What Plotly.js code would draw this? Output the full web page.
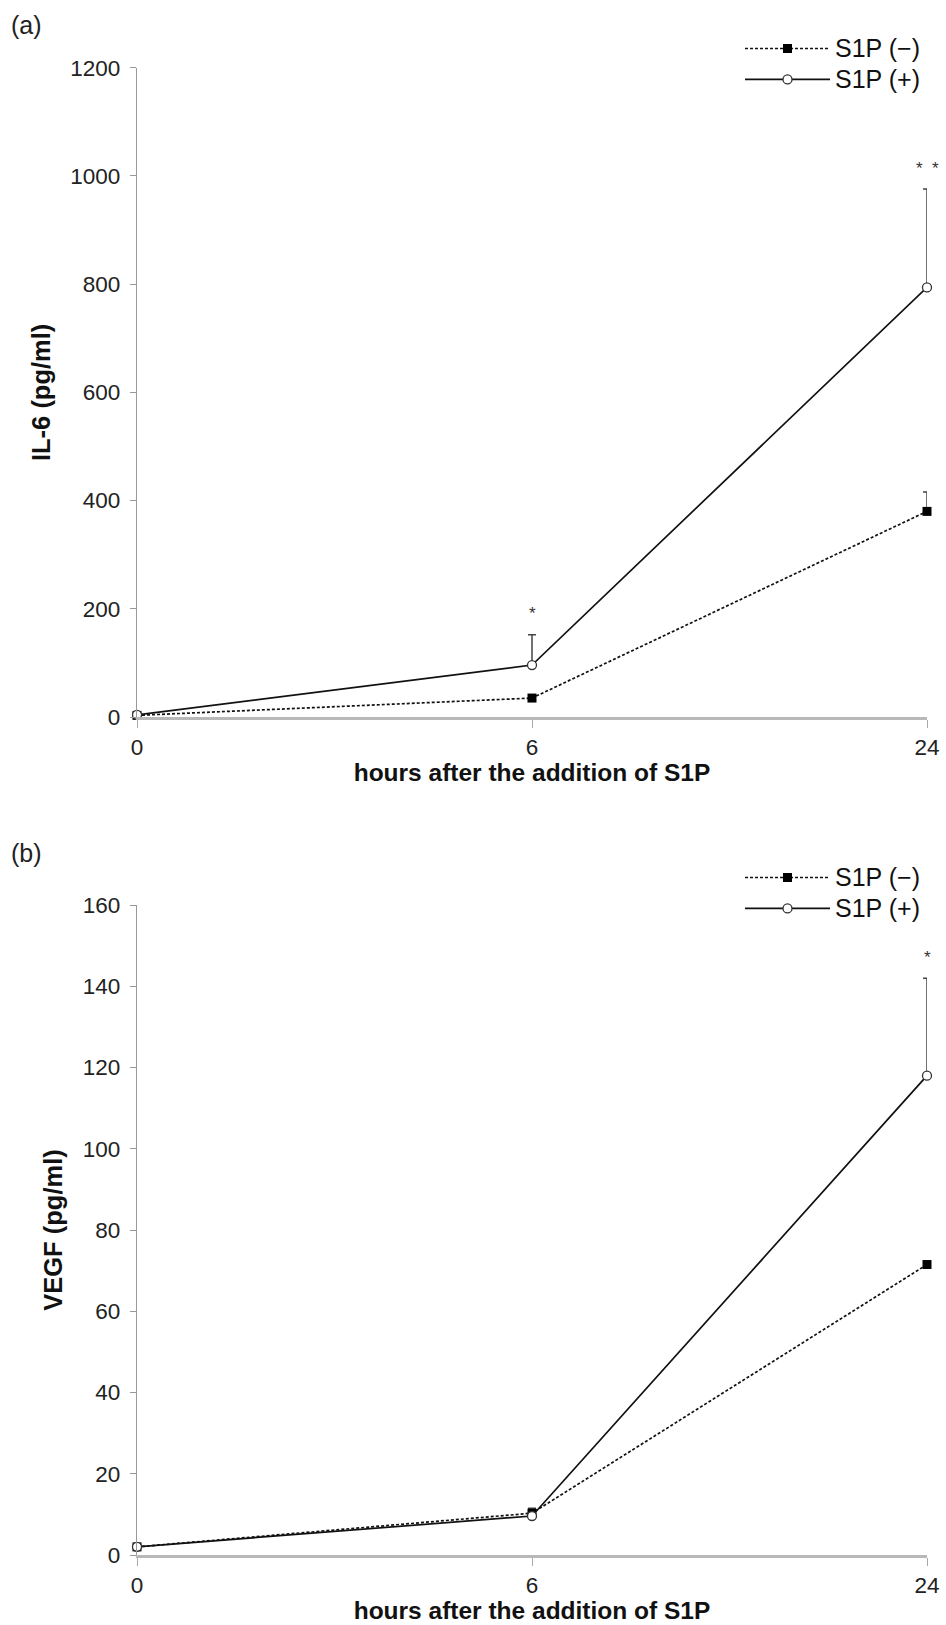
<!DOCTYPE html>
<html>
<head>
<meta charset="utf-8">
<script src="https://cdn.plot.ly/plotly-3.0.1.min.js"></script>
<style>html,body{margin:0;padding:0;background:#fff;}#chart{width:946px;height:1625px;}</style>
</head>
<body>
<div id="chart"></div>
<script>
// ---- data ----
const hours = ['0', '6', '24'];
const seriesNames = ['S1P (\u2212)', 'S1P (+)'];

// (a) IL-6 (pg/ml)
const il6Minus = [3, 35, 380];
const il6MinusErr = [0, 4, 36];
const il6Plus = [4, 96, 794];
const il6PlusErr = [0, 56, 182];

// (b) VEGF (pg/ml)
const vegfMinus = [2, 10.3, 71.5];
const vegfMinusErr = [0.3, 1.2, 0.5];
const vegfPlus = [2, 9.6, 118];
const vegfPlusErr = [0.2, 0.6, 24];

// significance marks
const il6Stars = [{x: '6', y: 192, text: '*'}, {x: '24', y: 1013, text: '*\u00a0\u00a0*'}];
const vegfStars = [{x: '24', y: 147.2, text: '*'}];

const FONT = 'Liberation Sans, Arial, Helvetica, sans-serif';

function errBar(arr) {
  return {type: 'data', symmetric: false, array: arr, arrayminus: arr.map(() => 0),
          color: '#444', thickness: 1.5, width: 4};
}
function legendName(s) {
  return '<span style="font-size:25px">' + s + '</span>';
}
function minusTrace(y, err, xa, ya, leg) {
  return {x: hours, y: y, xaxis: xa, yaxis: ya, legend: leg, name: legendName(seriesNames[0]),
    type: 'scatter', mode: 'lines+markers', cliponaxis: false,
    line: {color: '#111', width: 1.7, dash: '3px,2px'},
    marker: {symbol: 'square', size: 9, color: '#000'},
    error_y: errBar(err)};
}
function plusTrace(y, err, xa, ya, leg) {
  return {x: hours, y: y, xaxis: xa, yaxis: ya, legend: leg, name: legendName(seriesNames[1]),
    type: 'scatter', mode: 'lines+markers', cliponaxis: false,
    line: {color: '#111', width: 1.7},
    marker: {symbol: 'circle', size: 9, color: '#fff', line: {color: '#333', width: 1.3}},
    error_y: errBar(err)};
}

const traces = [
  minusTrace(il6Minus, il6MinusErr, 'x', 'y', 'legend'),
  plusTrace(il6Plus, il6PlusErr, 'x', 'y', 'legend'),
  minusTrace(vegfMinus, vegfMinusErr, 'x2', 'y2', 'legend2'),
  plusTrace(vegfPlus, vegfPlusErr, 'x2', 'y2', 'legend2')
];

function xAxis(anchor) {
  return {anchor: anchor, type: 'category', range: [0, 2], domain: [0, 1],
    showline: true, linecolor: '#b8b8b8', linewidth: 2.5,
    ticks: 'outside', ticklen: 8, tickcolor: '#aaa', tickwidth: 1,
    ticklabelstandoff: 0,
    showgrid: false, zeroline: false,
    tickfont: {family: FONT, size: 22.5, color: '#222'},
    title: {text: '<b>hours after the addition of S1P</b>', font: {family: FONT, size: 24.5, color: '#111'}, standoff: 3}};
}
function yAxis(anchor, domain, range, dtick, title) {
  return {anchor: anchor, domain: domain, range: range, dtick: dtick,
    showline: true, linecolor: '#999', linewidth: 1.3,
    ticks: 'outside', ticklen: 6, tickcolor: '#999', tickwidth: 1,
    ticklabelstandoff: 5,
    showgrid: false, zeroline: false,
    tickfont: {family: FONT, size: 22.5, color: '#222'},
    title: {text: '<b>' + title + '</b>', font: {family: FONT, size: 25.5, color: '#111'}, standoff: 12}};
}

const H = 1625;
const L = 137, R = 19;
const PW = 946 - L - R;
const annotations = [];
annotations.push({xref: 'paper', yref: 'paper', x: (9 - L) / PW, y: 1 - 25 / H, xanchor: 'left', yanchor: 'middle',
  text: '(a)', showarrow: false, font: {family: FONT, size: 25, color: '#222'}});
annotations.push({xref: 'paper', yref: 'paper', x: (9 - L) / PW, y: 1 - 853 / H, xanchor: 'left', yanchor: 'middle',
  text: '(b)', showarrow: false, font: {family: FONT, size: 25, color: '#222'}});
il6Stars.forEach(s => annotations.push({xref: 'x', yref: 'y', x: hours.indexOf(s.x), y: s.y, text: s.text, showarrow: false,
  xanchor: 'center', yanchor: 'middle', font: {family: FONT, size: 17, color: '#333'}}));
vegfStars.forEach(s => annotations.push({xref: 'x2', yref: 'y2', x: hours.indexOf(s.x), y: s.y, text: s.text, showarrow: false,
  xanchor: 'center', yanchor: 'middle', font: {family: FONT, size: 17, color: '#333'}}));

const legendBase = {xanchor: 'left', yanchor: 'top', bgcolor: 'rgba(0,0,0,0)',
  font: {family: FONT, size: 21.5, color: '#111'}, tracegroupgap: 0, itemwidth: 85};

const layout = {
  width: 946, height: H,
  margin: {l: L, r: R, t: 0, b: 0},
  paper_bgcolor: '#fff', plot_bgcolor: '#fff',
  showlegend: true,
  xaxis: xAxis('y'),
  yaxis: yAxis('x', [1 - 717 / H, 1 - 67.7 / H], [0, 1200], 200, 'IL-6 (pg/ml)'),
  xaxis2: xAxis('y2'),
  yaxis2: yAxis('x2', [1 - 1555 / H, 1 - 905 / H], [0, 160], 20, 'VEGF (pg/ml)'),
  legend: Object.assign({}, legendBase, {x: (740 - L) / PW, y: 1 - 28 / H}),
  legend2: Object.assign({}, legendBase, {x: (740 - L) / PW, y: 1 - 857 / H}),
  annotations: annotations
};

Plotly.newPlot('chart', traces, layout, {displayModeBar: false, staticPlot: true});
</script>
</body>
</html>
